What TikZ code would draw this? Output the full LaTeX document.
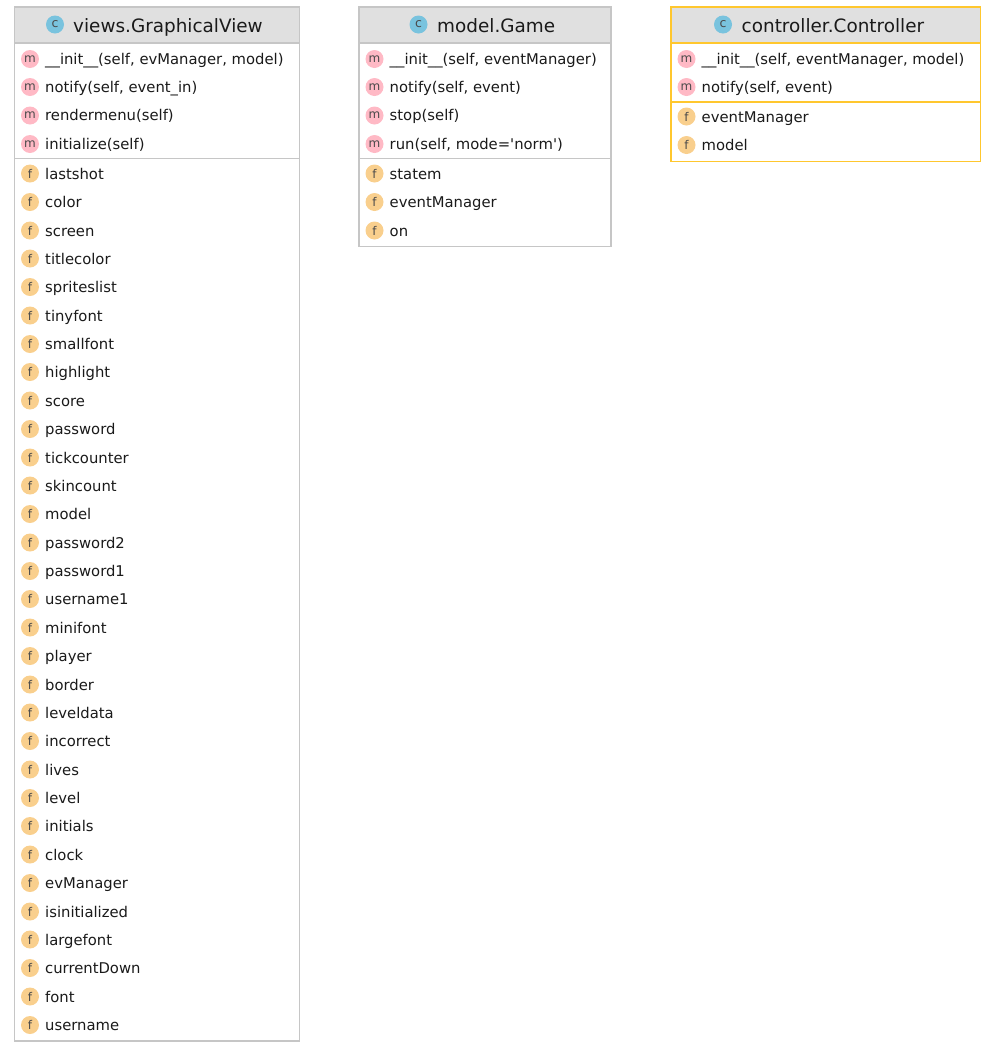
\documentclass[tikz,border=0pt]{standalone}
\usepackage{fontspec}
\setmainfont{DejaVu Sans}[Ligatures=TeXOff]
\usepackage{xcolor}
\definecolor{boxgray}{HTML}{C6C6C6}
\definecolor{boxyellow}{HTML}{FFC72E}
\definecolor{headgray}{HTML}{E0E0E0}
\definecolor{iconblue}{HTML}{79C3DE}
\definecolor{iconpink}{HTML}{FFB9C5}
\definecolor{iconorange}{HTML}{F9CF8D}
\definecolor{lettergray}{HTML}{4A4A4A}
\definecolor{textblack}{HTML}{1A1A1A}
\tikzset{
    classicon/.style={circle, fill=iconblue, minimum size=18pt, inner sep=0pt,
        text=lettergray, font=\fontsize{12.5}{12.5}\selectfont},
    mthicon/.style={circle, fill=iconpink, minimum size=18pt, inner sep=0pt,
        text=lettergray, font=\fontsize{12}{12}\selectfont},
    fldicon/.style={circle, fill=iconorange, minimum size=18pt, inner sep=0pt,
        text=lettergray, font=\fontsize{12}{12}\selectfont},
    titletext/.style={anchor=base west, inner sep=0pt, text=textblack,
        font=\fontsize{18.4}{18.4}\selectfont},
    rowtext/.style={anchor=base west, inner sep=0pt, text=textblack,
        font=\fontsize{14.8}{14.8}\selectfont},
    boxline/.style={line width=1.2pt}
}
\begin{document}
\begin{tikzpicture}[x=1pt,y=-1pt]
    \useasboundingbox (0,0) rectangle (996,1042);

    % views.GraphicalView
    \fill[headgray] (14.5,7) rectangle (299.5,43);
    \draw[boxline, boxgray] (14.5,7) rectangle (299.5,1041);
    \draw[boxline, boxgray] (14.5,43) -- (299.5,43);
    \draw[boxline, boxgray] (14.5,158.5) -- (299.5,158.5);
    \node[classicon] (viewicon) at (55,24.5) {c};
    \node[titletext] (viewtitle) at (73,32) {views.GraphicalView};

    \node[mthicon] (vm1) at (30,59) {m}; \node[rowtext] (vm1t) at (45,64) {\_\_init\_\_(self, evManager, model)};
    \node[mthicon] (vm2) at (30,87) {m}; \node[rowtext] (vm2t) at (45,92) {notify(self, event\_in)};
    \node[mthicon] (vm3) at (30,115.5) {m}; \node[rowtext] (vm3t) at (45,120.5) {rendermenu(self)};
    \node[mthicon] (vm4) at (30,144) {m}; \node[rowtext] (vm4t) at (45,149) {initialize(self)};

    \node[fldicon] (vf1) at (30,173.5) {f}; \node[rowtext] (vf1t) at (45,179) {lastshot};
    \node[fldicon] (vf2) at (30,202) {f}; \node[rowtext] (vf2t) at (45,207.5) {color};
    \node[fldicon] (vf3) at (30,230.5) {f}; \node[rowtext] (vf3t) at (45,236) {screen};
    \node[fldicon] (vf4) at (30,258.5) {f}; \node[rowtext] (vf4t) at (45,264) {titlecolor};
    \node[fldicon] (vf5) at (30,287) {f}; \node[rowtext] (vf5t) at (45,292.5) {spriteslist};
    \node[fldicon] (vf6) at (30,315.5) {f}; \node[rowtext] (vf6t) at (45,321) {tinyfont};
    \node[fldicon] (vf7) at (30,344) {f}; \node[rowtext] (vf7t) at (45,349.5) {smallfont};
    \node[fldicon] (vf8) at (30,372) {f}; \node[rowtext] (vf8t) at (45,377.5) {highlight};
    \node[fldicon] (vf9) at (30,400.5) {f}; \node[rowtext] (vf9t) at (45,406) {score};
    \node[fldicon] (vf10) at (30,429) {f}; \node[rowtext] (vf10t) at (45,434.5) {password};
    \node[fldicon] (vf11) at (30,457.5) {f}; \node[rowtext] (vf11t) at (45,463) {tickcounter};
    \node[fldicon] (vf12) at (30,485.5) {f}; \node[rowtext] (vf12t) at (45,491) {skincount};
    \node[fldicon] (vf13) at (30,514) {f}; \node[rowtext] (vf13t) at (45,519.5) {model};
    \node[fldicon] (vf14) at (30,542.5) {f}; \node[rowtext] (vf14t) at (45,548) {password2};
    \node[fldicon] (vf15) at (30,571) {f}; \node[rowtext] (vf15t) at (45,576.5) {password1};
    \node[fldicon] (vf16) at (30,599) {f}; \node[rowtext] (vf16t) at (45,604.5) {username1};
    \node[fldicon] (vf17) at (30,627.5) {f}; \node[rowtext] (vf17t) at (45,633) {minifont};
    \node[fldicon] (vf18) at (30,656) {f}; \node[rowtext] (vf18t) at (45,661.5) {player};
    \node[fldicon] (vf19) at (30,684.5) {f}; \node[rowtext] (vf19t) at (45,690) {border};
    \node[fldicon] (vf20) at (30,712.5) {f}; \node[rowtext] (vf20t) at (45,718) {leveldata};
    \node[fldicon] (vf21) at (30,741) {f}; \node[rowtext] (vf21t) at (45,746.5) {incorrect};
    \node[fldicon] (vf22) at (30,769.5) {f}; \node[rowtext] (vf22t) at (45,775) {lives};
    \node[fldicon] (vf23) at (30,798) {f}; \node[rowtext] (vf23t) at (45,803.5) {level};
    \node[fldicon] (vf24) at (30,826) {f}; \node[rowtext] (vf24t) at (45,831.5) {initials};
    \node[fldicon] (vf25) at (30,854.5) {f}; \node[rowtext] (vf25t) at (45,860) {clock};
    \node[fldicon] (vf26) at (30,883) {f}; \node[rowtext] (vf26t) at (45,888.5) {evManager};
    \node[fldicon] (vf27) at (30,911.5) {f}; \node[rowtext] (vf27t) at (45,917) {isinitialized};
    \node[fldicon] (vf28) at (30,939.5) {f}; \node[rowtext] (vf28t) at (45,945) {largefont};
    \node[fldicon] (vf29) at (30,968) {f}; \node[rowtext] (vf29t) at (45,973.5) {currentDown};
    \node[fldicon] (vf30) at (30,996.5) {f}; \node[rowtext] (vf30t) at (45,1002) {font};
    \node[fldicon] (vf31) at (30,1025) {f}; \node[rowtext] (vf31t) at (45,1030.5) {username};

    % model.Game
    \fill[headgray] (359,7) rectangle (611,43);
    \draw[boxline, boxgray] (359,7) rectangle (611,246.5);
    \draw[boxline, boxgray] (359,43) -- (611,43);
    \draw[boxline, boxgray] (359,158.5) -- (611,158.5);
    \node[classicon] (gameicon) at (418.5,24.5) {c};
    \node[titletext] (gametitle) at (437,32) {model.Game};

    \node[mthicon] (gm1) at (374.5,59) {m}; \node[rowtext] (gm1t) at (389.5,64) {\_\_init\_\_(self, eventManager)};
    \node[mthicon] (gm2) at (374.5,87) {m}; \node[rowtext] (gm2t) at (389.5,92) {notify(self, event)};
    \node[mthicon] (gm3) at (374.5,115.5) {m}; \node[rowtext] (gm3t) at (389.5,120.5) {stop(self)};
    \node[mthicon] (gm4) at (374.5,144) {m}; \node[rowtext] (gm4t) at (389.5,149) {run(self, mode='norm')};

    \node[fldicon] (gf1) at (374.5,173.5) {f}; \node[rowtext] (gf1t) at (389.5,179) {statem};
    \node[fldicon] (gf2) at (374.5,202) {f}; \node[rowtext] (gf2t) at (389.5,207.5) {eventManager};
    \node[fldicon] (gf3) at (374.5,230.5) {f}; \node[rowtext] (gf3t) at (389.5,236) {on};

    % controller.Controller
    \fill[headgray] (671,7) rectangle (980.5,43);
    \draw[boxline, boxyellow] (671,7) rectangle (980.5,161.5);
    \draw[boxline, boxyellow] (671,43) -- (980.5,43);
    \draw[boxline, boxyellow] (671,102) -- (980.5,102);
    \node[classicon] (ctrlicon) at (723,24.5) {c};
    \node[titletext] (ctrltitle) at (741.5,32) {controller.Controller};

    \node[mthicon] (cm1) at (686.5,59) {m}; \node[rowtext] (cm1t) at (701.5,64) {\_\_init\_\_(self, eventManager, model)};
    \node[mthicon] (cm2) at (686.5,87) {m}; \node[rowtext] (cm2t) at (701.5,92) {notify(self, event)};

    \node[fldicon] (cf1) at (686.5,116.5) {f}; \node[rowtext] (cf1t) at (701.5,122) {eventManager};
    \node[fldicon] (cf2) at (686.5,145) {f}; \node[rowtext] (cf2t) at (701.5,150.5) {model};
\end{tikzpicture}
\end{document}
